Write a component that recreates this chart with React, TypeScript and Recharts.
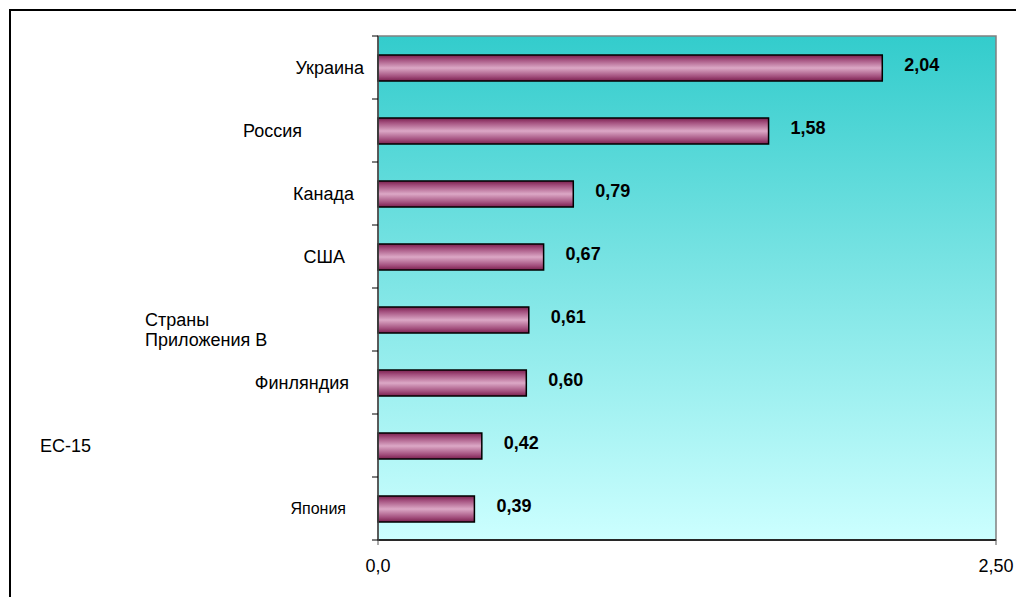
import {
  BarChart,
  Bar,
  XAxis,
  YAxis,
  CartesianGrid,
  ReferenceArea,
  LabelList,
} from "recharts";

const categories = [
  "Украина",
  "Россия",
  "Канада",
  "США",
  "Страны Приложения В",
  "Финляндия",
  "ЕС-15",
  "Япония",
];
const values = [2.04, 1.58, 0.79, 0.67, 0.61, 0.6, 0.42, 0.39];
const xTicks = [0, 2.5];
const xTickLabels = ["0,0", "2,50"];

const data = categories.map((name, i) => ({ name, value: values[i] }));

// label placement relative to the axis line (mimics the original's odd layout)
const LABEL_STYLE: Record<string, { anchor: "start" | "end"; dx: number; size: number; lines?: string[] }> = {
  "Украина": { anchor: "end", dx: -14, size: 18 },
  "Россия": { anchor: "end", dx: -76, size: 18 },
  "Канада": { anchor: "end", dx: -24, size: 18 },
  "США": { anchor: "end", dx: -33, size: 18 },
  "Страны Приложения В": { anchor: "start", dx: -233, size: 18, lines: ["Страны", "Приложения В"] },
  "Финляндия": { anchor: "end", dx: -29, size: 18 },
  "ЕС-15": { anchor: "start", dx: -338, size: 18 },
  "Япония": { anchor: "end", dx: -32, size: 16 },
};

const FONT = "Arial, 'Liberation Sans', sans-serif";
const TICK_LEN = 6;

// eslint-disable-next-line @typescript-eslint/no-explicit-any
function CategoryTick(props: any) {
  const { x, y, payload, index, visibleTicksCount } = props;
  const st = LABEL_STYLE[payload.value] ?? { anchor: "end", dx: -10, size: 18 };
  const lines = st.lines ?? [payload.value];
  const half = payload.offset ?? 0;
  const isLast = visibleTicksCount != null ? index === visibleTicksCount - 1 : index === categories.length - 1;
  return (
    <g>
      {half > 0 && (
        <line x1={x - TICK_LEN} x2={x} y1={y - half} y2={y - half} stroke="#000" strokeWidth={1} />
      )}
      {half > 0 && isLast && (
        <line x1={x - TICK_LEN} x2={x} y1={y + half} y2={y + half} stroke="#000" strokeWidth={1} />
      )}
      <text
        x={x + st.dx}
        y={y}
        textAnchor={st.anchor}
        fontSize={st.size}
        fontFamily={FONT}
        fill="#000"
      >
        {lines.map((l, i) => (
          <tspan key={i} x={x + st.dx} dy={i === 0 ? "0.35em" : 20}>
            {l}
          </tspan>
        ))}
      </text>
    </g>
  );
}

export default function App() {
  return (
    <div style={{ position: "absolute", left: 0, top: 0, width: 1016, height: 597, overflow: "hidden", background: "#fff" }}>
      <div
        style={{
          position: "absolute",
          left: 9,
          top: 9,
          width: 1100,
          height: 700,
          borderLeft: "2px solid #000",
          borderTop: "2px solid #000",
        }}
      />
      <div style={{ position: "absolute", left: 0, top: 0 }}>
        <BarChart
          width={1016}
          height={597}
          data={data}
          layout="vertical"
          margin={{ top: 36, right: 20, bottom: 0, left: 0 }}
        >
          <defs>
            <linearGradient id="bgGrad" x1="0" y1="0" x2="0" y2="1">
              <stop offset="0%" stopColor="#33CCCC" />
              <stop offset="100%" stopColor="#CCFFFF" />
            </linearGradient>
            <linearGradient id="barGrad" x1="0" y1="0" x2="0" y2="1">
              <stop offset="0%" stopColor="#7A1F4E" />
              <stop offset="18%" stopColor="#A4517F" />
              <stop offset="50%" stopColor="#DCA8C6" />
              <stop offset="82%" stopColor="#A4517F" />
              <stop offset="100%" stopColor="#7A1F4E" />
            </linearGradient>
          </defs>
          <CartesianGrid yAxisId="cat" fill="url(#bgGrad)" fillOpacity={1} horizontal={false} vertical={false} />
          <XAxis
            type="number"
            dataKey="value"
            domain={[0, 2.5]}
            ticks={xTicks}
            tickFormatter={(v: number) => xTickLabels[xTicks.indexOf(v)] ?? String(v)}
            height={57}
            axisLine={{ stroke: "#000", strokeWidth: 1.5 }}
            tickLine={{ stroke: "#555" }}
            tickSize={5}
            tickMargin={14}
            tick={{ fill: "#000", fontSize: 18, fontFamily: FONT }}
          />
          <YAxis
            yAxisId="cat"
            type="category"
            dataKey="name"
            width={378}
            interval={0}
            tickLine={false}
            tickSize={0}
            tickMargin={0}
            axisLine={{ stroke: "#444", strokeWidth: 1.5 }}
            tick={<CategoryTick />}
          />
          <ReferenceArea yAxisId="cat" x1={0} x2={2.5} fill="none" stroke="#808080" strokeWidth={1.5} />
          <Bar
            yAxisId="cat"
            dataKey="value"
            barSize={26}
            fill="url(#barGrad)"
            stroke="#000"
            strokeWidth={1.5}
            isAnimationActive={false}
          >
            <LabelList
              dataKey="value"
              position="right"
              offset={22}
              formatter={(v: number) => v.toFixed(2).replace(".", ",")}
              style={{ fill: "#000", fontSize: 18, fontWeight: "bold", fontFamily: FONT }}
              dy={-3}
            />
          </Bar>
        </BarChart>
      </div>
    </div>
  );
}
